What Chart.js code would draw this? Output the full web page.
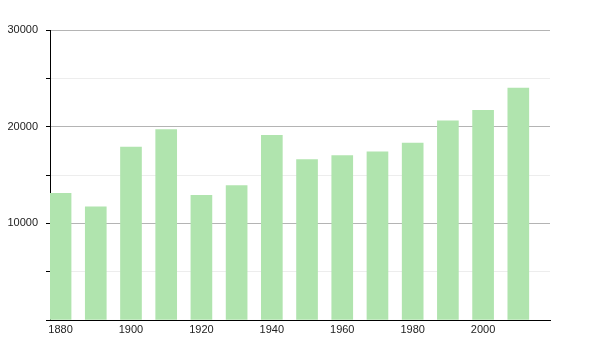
<!DOCTYPE html>
<html>
<head>
<meta charset="utf-8">
<script src="https://cdn.jsdelivr.net/npm/chart.js@4/dist/chart.umd.min.js"></script>
<style>
  body { margin: 0; background: #fff; }
  #wrap { width: 600px; height: 350px; }
</style>
</head>
<body>
<div id="wrap"><canvas id="grafico" width="600" height="350"></canvas></div>
<script>
// years and values
var anos = [1880, 1890, 1900, 1910, 1920, 1930, 1940, 1950, 1960, 1970, 1980, 1990, 2000, 2010];
var valores = [13100, 11700, 17900, 19700, 12900, 13900, 19100, 16600, 17000, 17400, 18300, 20600, 21700, 24000];
var ticksX = [1880, 1900, 1920, 1940, 1960, 1980, 2000];

var pontos = anos.map(function (a, i) { return { x: a, y: valores[i] }; });

var ctx = document.getElementById('grafico').getContext('2d');
var grafico = new Chart(ctx, {
    type: 'bar',
    data: {
        datasets: [{
            data: pontos,
            backgroundColor: 'rgb(176, 228, 174)',
            borderWidth: 0,
            barThickness: 21
        }]
    },
    options: {
        responsive: false,
        animation: false,
        layout: { padding: { left: 0, top: 30, right: 50, bottom: 0 } },
        plugins: {
            legend: { display: false },
            tooltip: { enabled: false }
        },
        scales: {
            x: {
                type: 'linear',
                offset: false,
                min: 1877,
                max: 2019,
                afterBuildTicks: function (axis) {
                    axis.ticks = ticksX.map(function (v) { return { value: v }; });
                },
                afterFit: function (axis) { axis.height = 30; },
                grid: { display: false, drawTicks: false, offset: false },
                border: { display: true, color: '#000', width: 1 },
                ticks: {
                    color: '#222',
                    font: { family: 'Liberation Sans', size: 11 },
                    padding: 3,
                    maxRotation: 0,
                    callback: function (v) { return String(v); }
                }
            },
            y: {
                min: 0,
                max: 30000,
                afterFit: function (axis) { axis.width = 50; },
                border: { display: true, color: '#000', width: 1 },
                grid: {
                    color: function (c) {
                        return c.tick.value % 10000 === 0 ? '#b4b4b4' : '#ededed';
                    },
                    tickColor: '#000',
                    tickLength: 4
                },
                ticks: {
                    stepSize: 5000,
                    color: '#222',
                    font: { family: 'Liberation Sans', size: 11 },
                    padding: 8,
                    callback: function (v) { return (v % 10000 === 0 && v > 0) ? String(v) : ''; }
                }
            }
        }
    }
});
</script>
</body>
</html>
